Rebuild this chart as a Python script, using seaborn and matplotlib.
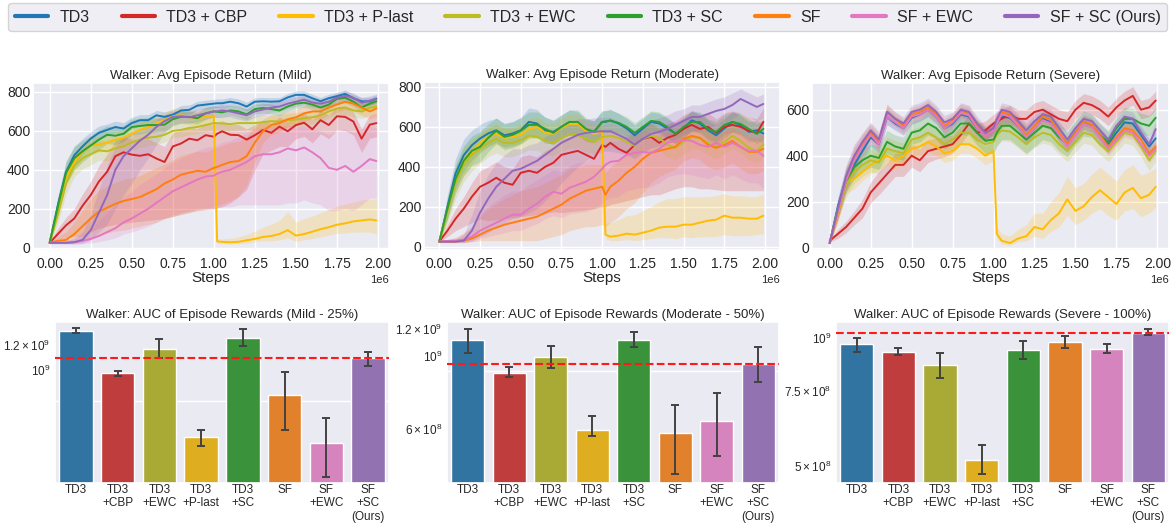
import numpy as np
import pandas as pd
import matplotlib
matplotlib.use("Agg")
import matplotlib.pyplot as plt
from matplotlib.lines import Line2D
from matplotlib.ticker import FixedLocator, FixedFormatter, NullFormatter, MultipleLocator
import seaborn as sns

# ---------------------------------------------------------------- methods
methods = ["TD3", "TD3 + CBP", "TD3 + P-last", "TD3 + EWC", "TD3 + SC",
           "SF", "SF + EWC", "SF + SC (Ours)"]
method_colors = ["#1f77b4", "#d62728", "#ffbc00", "#bcbd22", "#2ca02c",
                 "#ff7f0e", "#e377c2", "#9467bd"]

# ---------------------------------------------------------------- training curves
steps = [0, 50000, 100000, 150000, 200000, 250000, 300000, 350000, 400000, 450000,
         500000, 550000, 600000, 650000, 700000, 750000, 800000, 850000, 900000, 950000,
         1000000, 1020000, 1050000, 1100000, 1150000, 1200000, 1250000, 1300000, 1350000,
         1400000, 1450000, 1500000, 1550000, 1600000, 1650000, 1700000, 1750000, 1800000,
         1850000, 1900000, 1950000, 1990000]

# Mild
mild_td3 = [25, 220, 390, 475, 520, 560, 590, 605, 620, 612, 640, 655, 655, 680, 672,
            683, 705, 708, 730, 735, 740, 742, 742, 750, 742, 725, 750, 752, 750, 752,
            772, 785, 785, 768, 752, 768, 778, 790, 768, 752, 752, 765]
mild_td3_spread = [5, 40, 50, 45, 40, 35, 35, 30, 30, 30, 30, 28, 28, 25, 25, 25, 25, 25, 22, 22,
                   22, 22, 22, 22, 22, 22, 20, 20, 20, 20, 20, 20, 20, 20, 20, 20, 20, 20, 20, 20,
                   20, 20]
mild_cbp = [25, 70, 115, 150, 215, 270, 340, 390, 470, 490, 478, 472, 480, 458, 440,
            520, 535, 560, 552, 578, 570, 585, 598, 580, 578, 555, 578, 605, 590, 622,
            598, 630, 642, 608, 655, 630, 675, 672, 648, 560, 632, 640]
mild_cbp_below = [5, 30, 65, 95, 155, 190, 240, 280, 350, 365, 348, 337, 340, 313, 290,
                  360, 365, 380, 362, 383, 370, 380, 388, 350, 318, 255, 178, 125, 90, 102,
                  78, 70, 70, 70, 70, 70, 70, 70, 70, 70, 70, 70]
mild_cbp_above = [5, 30, 40, 50, 60, 70, 80, 90, 80, 80, 80, 80, 80, 80, 80, 70, 70, 60, 60, 60,
                  60, 60, 55, 55, 55, 55, 55, 50, 50, 50, 50, 50, 50, 50, 50, 50, 50, 50, 50, 50,
                  50, 50]
mild_plast = [25, 190, 360, 440, 490, 525, 530, 540, 555, 565, 585, 605, 620, 640, 655,
              675, 680, 670, 665, 672, 678, 32, 30, 28, 30, 38, 45, 55, 60, 70,
              90, 62, 70, 82, 95, 105, 118, 125, 135, 140, 145, 140]
mild_plast_below = [5, 40, 45, 40, 40, 40, 40, 40, 40, 40, 40, 40, 40, 40, 40, 40, 40, 40, 40, 40,
                    40, 10, 10, 10, 10, 15, 15, 20, 25, 30, 40, 30, 30, 35, 40, 40, 45, 50, 55, 60,
                    65, 70]
mild_plast_above = [5, 40, 45, 40, 40, 40, 40, 40, 40, 40, 40, 40, 40, 40, 40, 40, 40, 40, 40, 40,
                    40, 15, 15, 20, 25, 30, 40, 50, 60, 70, 95, 70, 80, 80, 85, 90, 95, 100, 100,
                    105, 105, 110]
mild_ewc = [25, 170, 330, 420, 460, 480, 500, 495, 510, 520, 540, 555, 565, 570, 580,
            600, 605, 615, 620, 630, 640, 640, 638, 635, 640, 640, 640, 645, 650, 648,
            655, 658, 665, 670, 680, 700, 715, 720, 705, 700, 718, 725]
mild_ewc_spread = [5, 45, 55, 55, 55, 55, 50, 50, 45, 45, 40, 40, 40, 40, 38, 35, 35, 35, 35, 35,
                   35, 35, 35, 35, 35, 35, 35, 35, 35, 35, 35, 35, 35, 35, 35, 35, 35, 35, 35, 35,
                   35, 35]
mild_sc = [25, 210, 385, 460, 495, 525, 555, 580, 575, 585, 620, 625, 630, 630, 632,
           660, 672, 672, 665, 690, 700, 698, 695, 705, 700, 685, 712, 718, 712, 705,
           725, 740, 745, 735, 720, 735, 765, 770, 750, 720, 740, 752]
mild_sc_spread = [5, 45, 60, 60, 55, 50, 50, 45, 45, 40, 40, 40, 38, 35, 35, 35, 32, 30, 30, 30,
                  28, 28, 28, 28, 28, 28, 26, 26, 26, 26, 25, 25, 25, 25, 25, 25, 25, 25, 25, 25,
                  25, 25]
mild_sf = [25, 35, 40, 70, 110, 150, 185, 205, 225, 240, 250, 260, 280, 300, 330,
           350, 375, 385, 395, 390, 410, 415, 425, 440, 445, 470, 540, 600, 630, 640,
           660, 670, 690, 700, 700, 720, 735, 750, 740, 720, 700, 715]
mild_sf_below = [5, 10, 15, 40, 70, 100, 120, 130, 140, 150, 150, 150, 160, 170, 180, 190, 200,
                 200, 200, 190, 200, 200, 200, 200, 180, 150, 100, 60, 50, 45, 40, 40, 40, 40,
                 40, 40, 40, 40, 40, 40, 40, 40]
mild_sf_above = [5, 20, 40, 60, 80, 100, 110, 110, 110, 110, 110, 110, 110, 110, 100, 100, 100,
                 100, 100, 100, 100, 100, 100, 100, 100, 100, 80, 60, 50, 45, 40, 40, 40, 40,
                 40, 40, 40, 40, 40, 40, 40, 40]
mild_sfewc = [25, 25, 25, 28, 35, 45, 60, 80, 100, 130, 150, 175, 200, 230, 260,
              290, 310, 330, 350, 365, 370, 380, 390, 400, 420, 440, 470, 480, 480, 490,
              510, 500, 515, 490, 460, 410, 400, 420, 390, 420, 455, 445]
mild_sfewc_below = [5, 5, 5, 8, 12, 20, 30, 40, 50, 60, 70, 80, 90, 100, 110, 120, 130, 140,
                    150, 160, 170, 175, 180, 190, 200, 220, 250, 260, 260, 270, 280, 270, 270,
                    260, 240, 220, 210, 220, 200, 200, 200, 190]
mild_sfewc_above = [5, 10, 15, 20, 30, 50, 80, 100, 120, 130, 140, 150, 150, 150, 150, 150, 150,
                    150, 150, 150, 150, 150, 150, 150, 150, 150, 140, 140, 140, 130, 120, 120,
                    110, 120, 140, 170, 200, 190, 200, 190, 170, 170]
mild_sfsc = [25, 25, 25, 28, 40, 90, 180, 270, 400, 470, 510, 550, 580, 620, 650,
             672, 675, 670, 680, 690, 700, 700, 705, 700, 690, 680, 700, 710, 720, 725,
             740, 750, 760, 745, 740, 750, 770, 780, 770, 745, 755, 765]
mild_sfsc_below = [5, 5, 5, 10, 20, 50, 100, 150, 200, 200, 180, 150, 120, 90, 60, 40, 35, 30,
                   30, 30, 30, 30, 30, 30, 30, 30, 30, 30, 25, 25, 25, 25, 25, 25, 25, 25, 25,
                   25, 25, 25, 25, 25]
mild_sfsc_above = [5, 5, 10, 20, 40, 80, 120, 150, 120, 100, 80, 60, 50, 40, 35, 30, 30, 30,
                   30, 30, 30, 30, 30, 30, 30, 30, 30, 30, 25, 25, 25, 25, 25, 25, 25, 25, 25,
                   25, 25, 25, 25, 25]

# Moderate
mod_td3 = [25, 200, 367, 458, 508, 542, 567, 583, 558, 567, 583, 625, 617, 583, 575,
           600, 625, 617, 583, 575, 625, 625, 633, 617, 592, 558, 592, 625, 617, 592,
           567, 592, 633, 617, 583, 558, 592, 625, 608, 575, 583, 567]
mod_td3_spread = [5, 60, 75, 80, 75, 70, 65, 60, 60, 60, 65, 70, 70, 65, 60, 60, 60, 60, 55, 55,
                  55, 55, 55, 50, 50, 50, 50, 50, 50, 50, 50, 50, 50, 50, 50, 50, 50, 50, 50, 50,
                  50, 50]
mod_cbp = [25, 80, 140, 190, 250, 300, 320, 345, 320, 310, 370, 380, 370, 400, 420,
           460, 470, 480, 460, 440, 510, 500, 520, 490, 470, 510, 540, 550, 520, 545,
           560, 590, 610, 590, 600, 570, 600, 610, 600, 580, 570, 625]
mod_cbp_below = [5, 30, 60, 90, 130, 160, 190, 210, 180, 165, 220, 225, 210, 235, 245, 290,
                 295, 300, 275, 250, 310, 300, 310, 270, 240, 270, 290, 290, 260, 270, 270,
                 290, 310, 300, 310, 285, 320, 330, 320, 300, 290, 345]
mod_cbp_above = [5, 30, 50, 60, 70, 80, 80, 80, 80, 80, 80, 80, 80, 80, 80, 80, 80, 80, 80, 80,
                 70, 70, 70, 70, 70, 70, 70, 70, 70, 70, 70, 70, 70, 70, 70, 70, 70, 70, 70, 70,
                 70, 70]
mod_plast = [25, 180, 330, 420, 470, 520, 550, 565, 545, 550, 560, 590, 600, 570, 565,
             595, 615, 615, 580, 565, 575, 60, 50, 55, 65, 60, 70, 80, 95, 100,
             100, 110, 110, 120, 130, 135, 155, 145, 145, 140, 140, 155]
mod_plast_below = [5, 50, 60, 60, 55, 50, 50, 50, 50, 50, 50, 50, 50, 50, 50, 50, 50, 50, 50, 50,
                   50, 20, 20, 25, 30, 30, 35, 40, 50, 55, 60, 60, 65, 70, 80, 85, 95, 90, 90,
                   85, 80, 90]
mod_plast_above = [5, 50, 60, 60, 55, 50, 50, 50, 50, 50, 50, 50, 50, 50, 50, 50, 50, 50, 50, 50,
                   50, 60, 70, 80, 90, 100, 110, 120, 130, 140, 140, 140, 140, 130, 120, 120,
                   110, 110, 110, 110, 110, 110]
mod_ewc = [25, 180, 320, 410, 460, 490, 520, 540, 520, 520, 535, 555, 550, 530, 520,
           545, 560, 560, 540, 525, 550, 552, 555, 545, 525, 505, 540, 555, 545, 510,
           495, 525, 550, 545, 520, 500, 525, 555, 530, 495, 480, 510]
mod_ewc_spread = [5, 60, 80, 85, 80, 75, 70, 70, 70, 70, 70, 70, 70, 70, 65, 65, 65, 65, 65, 60,
                  60, 60, 60, 60, 60, 60, 60, 60, 60, 60, 60, 60, 60, 60, 60, 60, 60, 60, 60, 60,
                  60, 60]
mod_sc = [25, 190, 340, 430, 480, 500, 545, 580, 550, 560, 580, 610, 610, 590, 570,
          600, 625, 625, 590, 575, 625, 628, 630, 620, 600, 570, 600, 630, 625, 600,
          565, 600, 625, 625, 590, 575, 610, 625, 615, 590, 565, 590]
mod_sc_spread = [5, 50, 70, 75, 75, 75, 70, 65, 65, 65, 65, 65, 65, 60, 60, 60, 60, 60, 55, 55,
                 55, 55, 55, 50, 50, 50, 50, 50, 50, 50, 50, 50, 50, 50, 50, 50, 50, 50, 50, 50,
                 50, 50]
mod_sf = [25, 25, 25, 30, 40, 60, 80, 95, 110, 120, 130, 140, 150, 170, 190,
          210, 240, 260, 280, 290, 300, 260, 300, 330, 370, 400, 440, 470, 480, 490,
          500, 540, 555, 545, 510, 495, 510, 530, 500, 475, 475, 490]
mod_sf_below = [5, 5, 5, 10, 15, 30, 50, 65, 80, 90, 100, 110, 120, 130, 140, 150, 160, 170,
                180, 190, 190, 160, 180, 180, 180, 180, 170, 150, 130, 120, 110, 110, 110, 110,
                110, 110, 110, 110, 110, 110, 110, 110]
mod_sf_above = [5, 10, 20, 40, 60, 90, 110, 120, 130, 140, 150, 150, 150, 150, 150, 150, 150,
                140, 130, 120, 110, 110, 100, 100, 100, 100, 90, 80, 80, 80, 80, 70, 70, 70,
                70, 70, 70, 70, 70, 70, 70, 70]
mod_sfewc = [25, 28, 30, 35, 50, 80, 100, 120, 140, 160, 160, 190, 215, 250, 275,
             265, 295, 310, 325, 350, 390, 410, 425, 430, 460, 470, 475, 470, 490, 520,
             530, 535, 530, 510, 500, 520, 500, 520, 500, 480, 480, 455]
mod_sfewc_below = [5, 8, 10, 15, 25, 40, 50, 60, 70, 80, 80, 90, 100, 110, 120, 120, 130, 140,
                   150, 160, 170, 175, 180, 180, 180, 180, 180, 170, 170, 170, 170, 170, 170,
                   160, 160, 160, 160, 160, 160, 160, 160, 160]
mod_sfewc_above = [5, 10, 15, 30, 50, 80, 100, 110, 120, 120, 120, 120, 120, 110, 110, 110, 110,
                   110, 100, 100, 100, 100, 100, 100, 100, 100, 100, 100, 100, 100, 100, 100,
                   100, 100, 100, 100, 100, 100, 100, 100, 100, 100]
mod_sfsc = [25, 25, 25, 30, 80, 170, 240, 300, 340, 380, 390, 410, 430, 460, 490,
            520, 540, 560, 570, 575, 578, 578, 578, 560, 540, 510, 540, 565, 575, 590,
            610, 630, 650, 650, 665, 680, 690, 710, 740, 720, 700, 715]
mod_sfsc_below = [5, 5, 5, 10, 50, 120, 170, 200, 220, 240, 240, 240, 240, 230, 220, 200, 180,
                  160, 140, 120, 100, 100, 100, 90, 80, 70, 70, 70, 70, 70, 70, 70, 70, 70, 70,
                  70, 70, 70, 70, 70, 70, 70]
mod_sfsc_above = [5, 5, 10, 30, 80, 110, 120, 120, 120, 110, 100, 100, 90, 90, 90, 80, 80, 80,
                  70, 70, 70, 70, 70, 70, 70, 70, 70, 70, 70, 70, 70, 60, 60, 60, 60, 60, 60, 60,
                  50, 50, 50, 50]

# Severe
sev_td3 = [20, 180, 300, 360, 420, 480, 450, 570, 540, 520, 565, 580, 600, 570, 520,
           540, 580, 570, 520, 490, 520, 540, 570, 565, 530, 480, 520, 560, 545, 490,
           450, 500, 545, 530, 490, 450, 500, 545, 540, 490, 440, 475]
sev_td3_spread = [5, 40, 50, 50, 45, 40, 35, 35, 30, 30, 30, 30, 30, 30, 30, 30, 30, 30, 30, 30,
                  30, 30, 30, 30, 30, 30, 30, 30, 30, 30, 30, 30, 30, 30, 30, 30, 30, 30, 30, 30,
                  30, 30]
sev_cbp = [30, 60, 90, 130, 170, 240, 280, 320, 360, 360, 400, 380, 420, 430, 440,
           450, 490, 540, 500, 510, 540, 550, 560, 580, 560, 560, 590, 600, 580, 560,
           550, 600, 630, 620, 600, 570, 610, 640, 660, 600, 610, 640]
sev_cbp_spread = [5, 20, 25, 30, 40, 45, 50, 50, 50, 50, 50, 50, 50, 45, 45, 40, 40, 40, 40, 40,
                  40, 40, 40, 40, 40, 40, 40, 40, 40, 40, 40, 40, 40, 40, 40, 40, 40, 40, 40, 40,
                  40, 40]
sev_plast = [20, 150, 280, 300, 330, 360, 380, 400, 380, 400, 430, 440, 460, 440, 410,
             420, 450, 450, 430, 400, 420, 60, 30, 20, 40, 50, 90, 80, 120, 150,
             210, 160, 180, 220, 250, 220, 190, 240, 260, 215, 230, 265]
sev_plast_below = [5, 40, 45, 45, 40, 40, 40, 40, 40, 40, 40, 40, 40, 40, 40, 40, 40, 40, 40, 40,
                   40, 20, 15, 10, 15, 20, 40, 40, 50, 60, 70, 60, 60, 70, 80, 80, 70, 80, 90,
                   80, 80, 90]
sev_plast_above = [5, 40, 45, 45, 40, 40, 40, 40, 40, 40, 40, 40, 40, 40, 40, 40, 40, 40, 40, 40,
                   40, 30, 30, 30, 40, 50, 60, 70, 80, 90, 100, 100, 100, 100, 100, 100, 100,
                   100, 100, 100, 100, 80]
sev_ewc = [20, 160, 270, 330, 360, 380, 370, 430, 420, 410, 470, 480, 500, 480, 450,
           470, 500, 500, 470, 450, 460, 490, 510, 505, 480, 450, 480, 500, 490, 450,
           420, 460, 500, 490, 450, 420, 460, 500, 490, 440, 380, 420]
sev_ewc_spread = [5, 40, 50, 50, 50, 50, 50, 50, 45, 45, 45, 45, 45, 45, 45, 45, 45, 45, 45, 45,
                  45, 45, 45, 45, 45, 45, 45, 45, 45, 45, 45, 45, 45, 45, 45, 45, 45, 45, 45, 45,
                  45, 45]
sev_sc = [20, 170, 290, 350, 380, 400, 390, 460, 440, 430, 500, 510, 540, 520, 480,
          500, 540, 540, 500, 465, 470, 500, 530, 530, 500, 470, 500, 530, 520, 480,
          450, 500, 540, 530, 490, 460, 520, 560, 560, 540, 530, 565]
sev_sc_spread = [5, 40, 50, 50, 50, 50, 50, 50, 50, 50, 50, 50, 50, 50, 50, 50, 50, 50, 55, 55,
                 60, 60, 60, 60, 60, 60, 60, 60, 60, 60, 55, 55, 55, 50, 50, 50, 50, 50, 45, 45,
                 45, 45]
sev_sf = [20, 160, 300, 390, 450, 500, 460, 590, 560, 530, 580, 590, 610, 580, 530,
          555, 595, 585, 530, 495, 520, 550, 590, 580, 540, 490, 530, 570, 555, 500,
          450, 500, 550, 535, 490, 440, 480, 520, 510, 470, 410, 440]
sev_sf_spread = [5, 40, 50, 50, 45, 40, 35, 35, 30, 30, 30, 30, 30, 30, 30, 30, 30, 30, 30, 30,
                 30, 30, 30, 30, 30, 30, 30, 30, 30, 30, 30, 30, 30, 30, 30, 30, 30, 30, 30, 30,
                 30, 30]
sev_sfewc = [20, 160, 290, 380, 440, 490, 450, 570, 545, 520, 570, 580, 600, 570, 520,
             545, 585, 575, 520, 485, 510, 540, 580, 570, 530, 480, 520, 555, 540, 490,
             440, 490, 540, 525, 480, 430, 470, 510, 500, 450, 400, 430]
sev_sfewc_spread = [5, 40, 50, 50, 45, 40, 35, 35, 30, 30, 30, 30, 30, 30, 30, 30, 30, 30, 30,
                    30, 30, 30, 30, 30, 30, 30, 30, 30, 30, 30, 30, 30, 30, 30, 30, 30, 30, 30,
                    30, 30, 30, 30]
sev_sfsc = [20, 170, 310, 400, 460, 510, 470, 590, 560, 540, 590, 600, 620, 590, 545,
            560, 600, 590, 540, 500, 520, 560, 600, 590, 550, 510, 550, 580, 570, 520,
            470, 520, 560, 550, 510, 470, 530, 570, 560, 500, 450, 515]
sev_sfsc_spread = [5, 40, 50, 50, 40, 35, 35, 30, 30, 30, 30, 30, 30, 30, 30, 30, 30, 30, 30, 30,
                   30, 30, 30, 30, 30, 30, 30, 30, 30, 30, 30, 30, 30, 30, 30, 30, 30, 30, 30, 30,
                   30, 30]

# ---------------------------------------------------------------- AUC bars
bar_labels = ["TD3", "TD3\n+CBP", "TD3\n+EWC", "TD3\n+P-last", "TD3\n+SC",
              "SF", "SF\n+EWC", "SF\n+SC\n(Ours)"]
bar_colors = ["#1f77b4", "#d62728", "#bcbd22", "#ffbc00", "#2ca02c",
              "#ff7f0e", "#e377c2", "#9467bd"]

auc_mild = [1.328e9, 9.80e8, 1.166e9, 6.13e8, 1.26e9, 8.34e8, 5.89e8, 1.089e9]
auc_mild_lo = [1.31e9, 9.60e8, 1.09e9, 5.77e8, 1.19e9, 6.47e8, 4.60e8, 1.034e9]
auc_mild_hi = [1.36e9, 9.96e8, 1.25e9, 6.44e8, 1.345e9, 9.86e8, 7.06e8, 1.14e9]

auc_mod = [1.11e9, 8.84e8, 9.90e8, 5.97e8, 1.115e9, 5.82e8, 6.34e8, 9.43e8]
auc_mod_lo = [1.02e9, 8.60e8, 9.15e8, 5.71e8, 1.06e9, 4.40e8, 4.97e8, 8.30e8]
auc_mod_hi = [1.20e9, 9.20e8, 1.07e9, 6.55e8, 1.18e9, 7.10e8, 7.70e8, 1.06e9]

auc_sev = [9.64e8, 9.24e8, 8.62e8, 5.17e8, 9.37e8, 9.77e8, 9.42e8, 1.025e9]
auc_sev_lo = [9.24e8, 9.09e8, 8.06e8, 4.78e8, 8.90e8, 9.45e8, 9.20e8, 1.013e9]
auc_sev_hi = [1.00e9, 9.47e8, 9.20e8, 5.60e8, 9.80e8, 1.01e9, 9.66e8, 1.047e9]

# ---------------------------------------------------------------- style
sns.set_theme(style="darkgrid")
plt.rcParams["font.family"] = ["Liberation Sans", "DejaVu Sans"]

palette = dict(zip(methods, method_colors))
bar_palette = dict(zip(bar_labels, bar_colors))

W, H = 1173, 529
fig = plt.figure(figsize=(W / 100, H / 100), dpi=100)


def rect(left, top, right, bottom):
    return [left / W, 1 - bottom / H, (right - left) / W, (bottom - top) / H]


def draw_returns(ax, title, series, xlim, ylim, yticks):
    frames = []
    for name in methods:
        mean, below, above = series[name]
        assert len(mean) == len(steps) == len(below) == len(above), name
        m = np.asarray(mean, float)
        ax.fill_between(steps, m - np.asarray(below), m + np.asarray(above),
                        color=palette[name], alpha=0.2, linewidth=0)
        frames.append(pd.DataFrame({"Steps": steps, "Return": mean, "Method": name}))
    df = pd.concat(frames, ignore_index=True)
    sns.lineplot(data=df, x="Steps", y="Return", hue="Method", hue_order=methods,
                 palette=palette, errorbar=None, legend=False, linewidth=1.4, ax=ax)
    ax.set_xlim(*xlim)
    ax.set_ylim(*ylim)
    ax.xaxis.set_major_locator(MultipleLocator(250000))
    ax.set_yticks(yticks)
    ax.tick_params(axis="both", length=0)
    ax.tick_params(axis="x", labelsize=10, pad=5)
    ax.tick_params(axis="y", labelsize=10, pad=2)
    ax.xaxis.get_offset_text().set_fontsize(8)
    ax.set_xlabel("Steps", fontsize=11, labelpad=0)
    ax.set_ylabel("")
    ax.set_title(title, fontsize=9.5, pad=3)


def draw_auc(ax, title, means, lo, hi, ylim, label_vals, label_text, grid_vals):
    df = pd.DataFrame({"method": bar_labels, "auc": means})
    sns.barplot(data=df, x="method", y="auc", hue="method", palette=bar_palette,
                legend=False, errorbar=None, edgecolor="white", linewidth=1, ax=ax)
    m = np.asarray(means)
    ax.errorbar(np.arange(len(means)), m, yerr=[m - np.asarray(lo), np.asarray(hi) - m],
                fmt="none", ecolor="#424242", elinewidth=1.4, capsize=3, capthick=1.4,
                zorder=3)
    ax.axhline(means[-1], color="#ff1a1a", linestyle="--", linewidth=1.5, zorder=4)
    ax.set_yscale("log")
    ax.set_ylim(*ylim)
    ax.yaxis.set_major_locator(FixedLocator(label_vals))
    ax.yaxis.set_major_formatter(FixedFormatter(label_text))
    ax.yaxis.set_minor_locator(FixedLocator(grid_vals))
    ax.yaxis.set_minor_formatter(NullFormatter())
    ax.yaxis.grid(False, which="major")
    ax.yaxis.grid(True, which="minor", color="white", linewidth=1.0)
    ax.xaxis.grid(False)
    ax.set_xlim(-0.5, len(means) - 0.5)
    ax.tick_params(axis="both", which="both", length=0)
    ax.tick_params(axis="x", labelsize=8.5, pad=0.5)
    ax.tick_params(axis="y", which="both", labelsize=8.5, pad=3.5)
    ax.set_xlabel("")
    ax.set_ylabel("")
    ax.set_title(title, fontsize=9.5, pad=3)


# ---------------------------------------------------------------- top row
ax1 = fig.add_axes(rect(33, 83, 389, 250))
ax2 = fig.add_axes(rect(424, 82, 780, 250))
ax3 = fig.add_axes(rect(812, 83, 1169, 250))

draw_returns(ax1, "Walker: Avg Episode Return (Mild)", {
    "TD3": (mild_td3, mild_td3_spread, mild_td3_spread),
    "TD3 + CBP": (mild_cbp, mild_cbp_below, mild_cbp_above),
    "TD3 + P-last": (mild_plast, mild_plast_below, mild_plast_above),
    "TD3 + EWC": (mild_ewc, mild_ewc_spread, mild_ewc_spread),
    "TD3 + SC": (mild_sc, mild_sc_spread, mild_sc_spread),
    "SF": (mild_sf, mild_sf_below, mild_sf_above),
    "SF + EWC": (mild_sfewc, mild_sfewc_below, mild_sfewc_above),
    "SF + SC (Ours)": (mild_sfsc, mild_sfsc_below, mild_sfsc_above),
}, (-101500, 2067000), (-12, 846), [0, 200, 400, 600, 800])

draw_returns(ax2, "Walker: Avg Episode Return (Moderate)", {
    "TD3": (mod_td3, mod_td3_spread, mod_td3_spread),
    "TD3 + CBP": (mod_cbp, mod_cbp_below, mod_cbp_above),
    "TD3 + P-last": (mod_plast, mod_plast_below, mod_plast_above),
    "TD3 + EWC": (mod_ewc, mod_ewc_spread, mod_ewc_spread),
    "TD3 + SC": (mod_sc, mod_sc_spread, mod_sc_spread),
    "SF": (mod_sf, mod_sf_below, mod_sf_above),
    "SF + EWC": (mod_sfewc, mod_sfewc_below, mod_sfewc_above),
    "SF + SC (Ours)": (mod_sfsc, mod_sfsc_below, mod_sfsc_above),
}, (-94000, 2092000), (-17, 825), [0, 200, 400, 600, 800])

draw_returns(ax3, "Walker: Avg Episode Return (Severe)", {
    "TD3": (sev_td3, sev_td3_spread, sev_td3_spread),
    "TD3 + CBP": (sev_cbp, sev_cbp_spread, sev_cbp_spread),
    "TD3 + P-last": (sev_plast, sev_plast_below, sev_plast_above),
    "TD3 + EWC": (sev_ewc, sev_ewc_spread, sev_ewc_spread),
    "TD3 + SC": (sev_sc, sev_sc_spread, sev_sc_spread),
    "SF": (sev_sf, sev_sf_spread, sev_sf_spread),
    "SF + EWC": (sev_sfewc, sev_sfewc_spread, sev_sfewc_spread),
    "SF + SC (Ours)": (sev_sfsc, sev_sfsc_spread, sev_sfsc_spread),
}, (-108000, 2071000), (-10, 716), [0, 200, 400, 600])

# ---------------------------------------------------------------- bottom row
bx1 = fig.add_axes(rect(55, 322, 389, 483))
bx2 = fig.add_axes(rect(447, 322, 779, 483))
bx3 = fig.add_axes(rect(836, 322, 1169, 483))

draw_auc(bx1, "Walker: AUC of Episode Rewards (Mild - 25%)",
         auc_mild, auc_mild_lo, auc_mild_hi, (4.39e8, 1.42e9),
         [1e9, 1.2e9], [r"$\mathdefault{10^{9}}$", r"$\mathdefault{1.2\times10^{9}}$"],
         [8e8, 1.2e9])
draw_auc(bx2, "Walker: AUC of Episode Rewards (Moderate - 50%)",
         auc_mod, auc_mod_lo, auc_mod_hi, (4.12e8, 1.262e9),
         [6e8, 1e9, 1.2e9],
         [r"$\mathdefault{6\times10^{8}}$", r"$\mathdefault{10^{9}}$",
          r"$\mathdefault{1.2\times10^{9}}$"],
         [6e8, 9e8, 1.2e9])
draw_auc(bx3, "Walker: AUC of Episode Rewards (Severe - 100%)",
         auc_sev, auc_sev_lo, auc_sev_hi, (4.56e8, 1.088e9),
         [5e8, 7.5e8, 1e9],
         [r"$\mathdefault{5\times10^{8}}$", r"$\mathdefault{7.5\times10^{8}}$",
          r"$\mathdefault{10^{9}}$"],
         [5e8, 7.5e8, 1e9])

# ---------------------------------------------------------------- legend
handles = [Line2D([], [], color=c, linewidth=3) for c in method_colors]
fig.legend(handles, methods, loc="upper center", bbox_to_anchor=(0.501, 0.997),
           ncol=8, fontsize=11.5, handlelength=2.1, handletextpad=0.7,
           columnspacing=2.0, borderpad=0.4, borderaxespad=0.1, frameon=True)

fig.savefig("out.png", dpi=100)
